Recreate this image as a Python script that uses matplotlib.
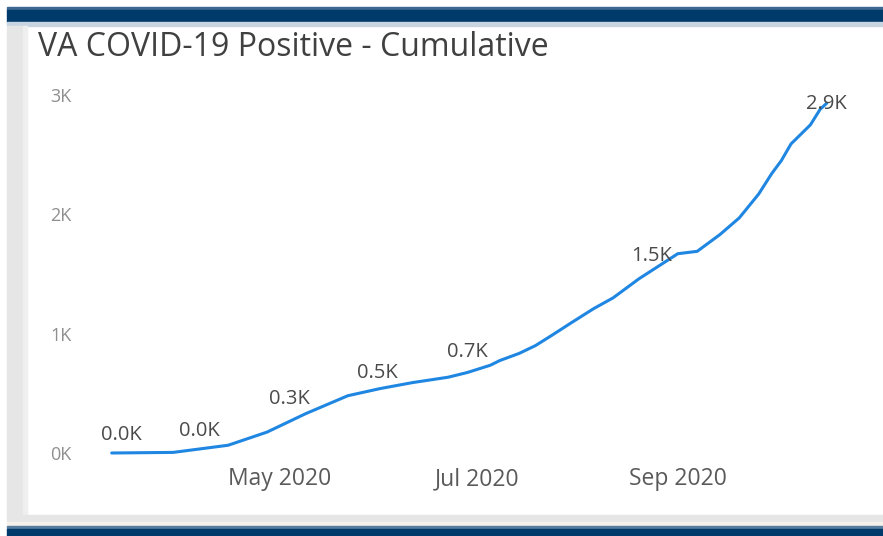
import pandas as pd
import matplotlib.pyplot as plt
import matplotlib.dates as mdates
from matplotlib.patches import Rectangle
from matplotlib.ticker import FuncFormatter

# cumulative positives
dates = ["2020-03-10", "2020-03-29", "2020-04-15", "2020-04-27", "2020-05-09",
         "2020-05-22", "2020-06-01", "2020-06-11", "2020-06-22", "2020-06-28",
         "2020-07-05", "2020-07-08", "2020-07-14", "2020-07-19", "2020-07-24",
         "2020-07-30", "2020-08-06", "2020-08-12", "2020-08-20", "2020-09-01",
         "2020-09-07", "2020-09-14", "2020-09-20", "2020-09-26", "2020-09-30",
         "2020-10-03", "2020-10-06", "2020-10-12", "2020-10-15", "2020-10-17"]
positives = [0, 5, 65, 175, 330, 480, 540, 590, 635, 675, 735, 775, 835, 900,
             985, 1090, 1210, 1300, 1460, 1670, 1690, 1830, 1970, 2170, 2340,
             2450, 2590, 2750, 2880, 2930]

label_dates = ["2020-03-13", "2020-04-06", "2020-05-04", "2020-05-31",
               "2020-06-28", "2020-08-24", "2020-10-17"]
label_values = [0, 30, 300, 520, 690, 1500, 2930]

x_ticks = ["2020-05-01", "2020-07-01", "2020-09-01"]
y_ticks = [0, 1000, 2000, 3000]

df = pd.DataFrame({"date": pd.to_datetime(dates), "positives": positives})
df_lab = pd.DataFrame({"date": pd.to_datetime(label_dates), "value": label_values})

plt.rcParams["font.family"] = ["Open Sans", "DejaVu Sans"]

W, H = 883, 536
fig = plt.figure(figsize=(W / 100, H / 100), dpi=100)

# report frame: navy bars top and bottom, grey strip on the left
def band(x0, y0, x1, y1, color):
    fig.patches.append(Rectangle((x0 / W, 1 - y1 / H), (x1 - x0) / W, (y1 - y0) / H,
                                 transform=fig.transFigure, color=color, zorder=0))

band(7, 7, W, 10, "#3d6890")
band(7, 10, W, 22, "#003a6b")
band(7, 22, W, 26, "#c8d5e1")
band(7, 26, 23, 515, "#e6e6e6")
band(23, 26, 27, 515, "#efefef")
band(7, 515, W, 522, "#e6e6e6")
band(7, 522, W, 526, "#f5f0ea")
band(7, 526, W, 529, "#587c9e")
band(7, 529, W, H, "#003a6b")

fig.text(38 / W, 1 - 47 / H, "VA COVID-19 Positive - Cumulative", fontsize=23,
         color="#404040", va="center", ha="left")

# axes: May 1 -> x 280 px, Sep 1 -> x 678 px; 0 -> y 453 px, 3K -> y 95 px
left_px, right_px = 102, 846
ax = fig.add_axes([left_px / W, (H - 453) / H, (right_px - left_px) / W, 358 / H])
ax.set_xlim(pd.Timestamp("2020-03-07"), pd.Timestamp("2020-10-23"))
ax.set_ylim(0, 3000)

ax.plot(df["date"], df["positives"], color="#1f86e2", lw=2.2,
        solid_capstyle="round", solid_joinstyle="round", clip_on=False)

for i, row in df_lab.iterrows():
    off = 6 if i < len(df_lab) - 1 else -8
    ax.annotate(f"{row['value'] / 1000:.1f}K", (row["date"], row["value"]),
                xytext=(0, off), textcoords="offset points", ha="center",
                va="bottom", fontsize=14.5, color="#4a4a4a", clip_on=False)

ax.set_xticks(pd.to_datetime(x_ticks))
ax.xaxis.set_major_formatter(mdates.DateFormatter("%b %Y"))
ax.set_yticks(y_ticks)
ax.yaxis.set_major_formatter(FuncFormatter(lambda v, p: f"{v / 1000:.0f}K"))
ax.tick_params(axis="x", length=0, pad=10, labelsize=16.5, labelcolor="#5a5a5a")
ax.tick_params(axis="y", length=0, pad=22, labelsize=13, labelcolor="#8f8f8f")
for s in ax.spines.values():
    s.set_visible(False)
ax.patch.set_alpha(0)

plt.savefig("out.png", dpi=100)
